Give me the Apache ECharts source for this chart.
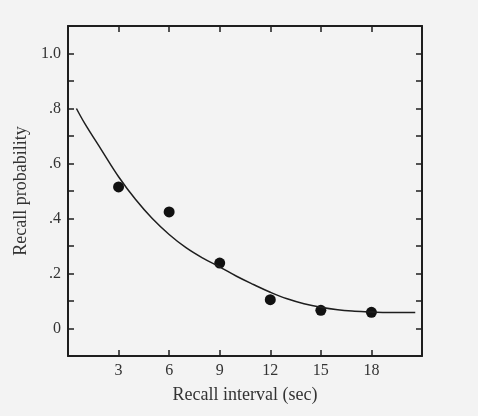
<!DOCTYPE html>
<html>
<head>
<meta charset="utf-8">
<script src="https://cdn.jsdelivr.net/npm/echarts@6/dist/echarts.min.js"></script>
<style>
  html, body { margin: 0; padding: 0; background: #f3f3f3; }
  #chart { width: 478px; height: 416px; }
</style>
</head>
<body>
<div id="chart"></div>
<script>
// measured recall points
const intervals = [3, 6, 9, 12, 15, 18];
const recall = [0.515, 0.424, 0.238, 0.105, 0.066, 0.059];

// fitted curve
const curveX = [0.5, 1, 2, 3, 4, 5, 6, 7, 8, 9, 10, 11, 12, 13, 14, 15, 16, 17, 18, 19, 20, 20.6];
const curveY = [0.80, 0.745, 0.648, 0.552, 0.47, 0.40, 0.342, 0.294, 0.256, 0.224, 0.19, 0.16,
  0.132, 0.108, 0.09, 0.077, 0.068, 0.063, 0.06, 0.058, 0.058, 0.058];

const xTicks = [3, 6, 9, 12, 15, 18];
const yLabels = { 0: '0', 2: '.2', 4: '.4', 6: '.6', 8: '.8', 10: '1.0' };

const font = 'Liberation Serif';
const ink = '#1e1e1e';
const textInk = '#333';

const frameLine = { show: true, onZero: false, lineStyle: { color: ink, width: 2 } };
const inTick = { show: true, inside: true, length: 6, lineStyle: { color: ink, width: 1.5 } };

const chart = echarts.init(document.getElementById('chart'));
chart.setOption({
  backgroundColor: '#f3f3f3',
  animation: false,
  grid: { left: 68, right: 56, top: 26, bottom: 60 },
  xAxis: [
    {
      type: 'value', min: 0, max: 21, interval: 3,
      axisLine: frameLine, axisTick: inTick, splitLine: { show: false },
      axisLabel: {
        color: textInk, fontFamily: font, fontSize: 16, margin: 7,
        formatter: (v) => (xTicks.indexOf(v) >= 0 ? String(v) : ''),
      },
      name: 'Recall interval (sec)', nameLocation: 'middle', nameGap: 30,
      nameTextStyle: { color: textInk, fontFamily: font, fontSize: 18 },
    },
    {
      type: 'value', position: 'top', min: 0, max: 21, interval: 3,
      axisLine: frameLine, axisTick: inTick, axisLabel: { show: false }, splitLine: { show: false },
    },
  ],
  yAxis: [
    {
      type: 'value', min: -0.1, max: 1.1, interval: 0.1,
      axisLine: frameLine, axisTick: inTick, splitLine: { show: false },
      axisLabel: {
        color: textInk, fontFamily: font, fontSize: 16, margin: 7,
        formatter: (v) => yLabels[Math.round(v * 10)] || '',
      },
      name: 'Recall probability', nameLocation: 'middle', nameGap: 38, nameRotate: 90,
      nameTextStyle: { color: textInk, fontFamily: font, fontSize: 18 },
    },
    {
      type: 'value', position: 'right', min: -0.1, max: 1.1, interval: 0.1,
      axisLine: frameLine, axisTick: inTick, axisLabel: { show: false }, splitLine: { show: false },
    },
  ],
  series: [
    {
      type: 'line', smooth: 0.4, symbol: 'none',
      lineStyle: { color: ink, width: 1.5 },
      data: curveX.map((x, i) => [x, curveY[i]]),
    },
    {
      type: 'scatter', symbolSize: 11,
      itemStyle: { color: '#111', opacity: 1 },
      data: intervals.map((x, i) => [x, recall[i]]),
    },
  ],
});
</script>
</body>
</html>
